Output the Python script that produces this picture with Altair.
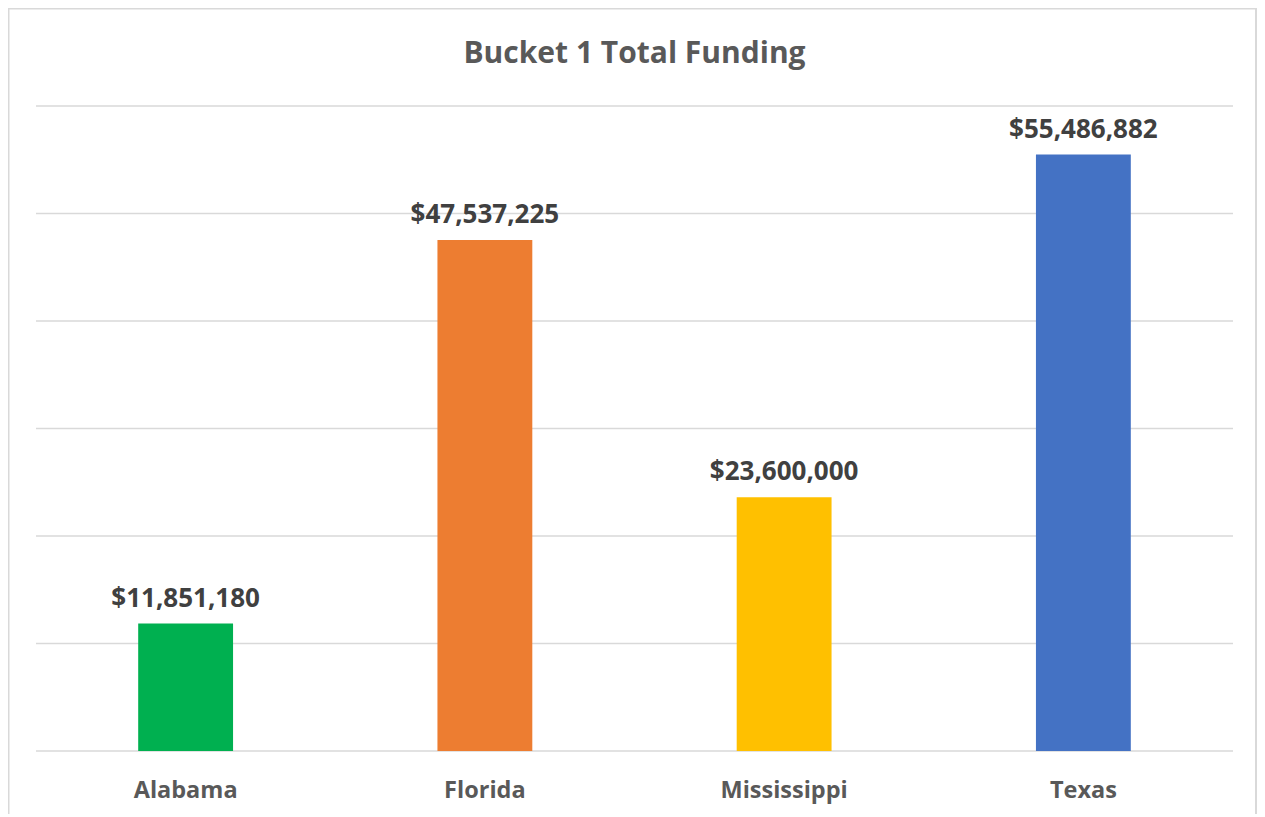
import altair as alt
import pandas as pd

states = ["Alabama", "Florida", "Mississippi", "Texas"]
funding = [11851180, 47537225, 23600000, 55486882]
colors = ["#00B050", "#ED7D31", "#FFC000", "#4472C4"]
y_ticks = [0, 10000000, 20000000, 30000000, 40000000, 50000000, 60000000]
title_text = "Bucket 1 Total Funding"

df = pd.DataFrame({"State": states, "Funding": funding, "Color": colors})
grid_df = pd.DataFrame({"Funding": y_ticks})

FONT = "Open Sans"
W, H = 1249, 806
PLOT_L, PLOT_R = 28, 1225
PLOT_TOP, PLOT_BOT = 98, 743
BORDER = "#D9D9D9"

x_scale = alt.Scale(
    domain=states, range=[PLOT_L, PLOT_R], paddingInner=0.683, paddingOuter=0.3415
)
y_scale = alt.Scale(domain=[0, 60000000], range=[PLOT_BOT, PLOT_TOP], nice=False)

grid = alt.Chart(grid_df).mark_rule(color="#D9D9D9", strokeWidth=1.5).encode(
    y=alt.Y("Funding:Q", scale=y_scale, axis=None),
    x=alt.value(PLOT_L),
    x2=alt.value(PLOT_R),
)

base = alt.Chart(df)

bars = base.mark_bar().encode(
    x=alt.X("State:N", sort=states, scale=x_scale, axis=None),
    y=alt.Y("Funding:Q", scale=y_scale, axis=None),
    color=alt.Color("Color:N", scale=None),
)

labels = base.mark_text(
    baseline="alphabetic",
    dy=-17,
    font=FONT,
    fontSize=26,
    fontWeight="bold",
    color="#404040",
).encode(
    x=alt.X("State:N", sort=states),
    y=alt.Y("Funding:Q"),
    text=alt.Text("Funding:Q", format="$,.0f"),
)

cat_labels = base.mark_text(
    baseline="alphabetic",
    font=FONT,
    fontSize=23.5,
    fontWeight="bold",
    color="#595959",
).encode(
    x=alt.X("State:N", sort=states),
    y=alt.value(790),
    text="State:N",
)

one = alt.Data(values=[{"t": title_text}])

title = alt.Chart(one).mark_text(
    baseline="alphabetic",
    align="center",
    font=FONT,
    fontSize=30,
    fontWeight="bold",
    color="#595959",
).encode(x=alt.value((PLOT_L + PLOT_R) / 2), y=alt.value(55), text="t:N")

top_rule = alt.Chart(one).mark_rule(color=BORDER, strokeWidth=2).encode(
    x=alt.value(0), x2=alt.value(W), y=alt.value(0.5)
)
left_rule = alt.Chart(one).mark_rule(color=BORDER, strokeWidth=2).encode(
    x=alt.value(0.5), y=alt.value(0), y2=alt.value(H)
)
right_rule = alt.Chart(one).mark_rule(color=BORDER, strokeWidth=2).encode(
    x=alt.value(W - 1), y=alt.value(0), y2=alt.value(H)
)

chart = (
    alt.layer(top_rule, left_rule, right_rule, grid, bars, labels, cat_labels, title)
    .properties(
        width=W,
        height=H,
        autosize=alt.AutoSizeParams(type="none"),
        padding=0,
    )
    .configure_view(stroke="transparent", strokeWidth=0)
    .configure(background="white")
)

chart.save("out.html", embed_options={"renderer": "svg", "actions": False})
